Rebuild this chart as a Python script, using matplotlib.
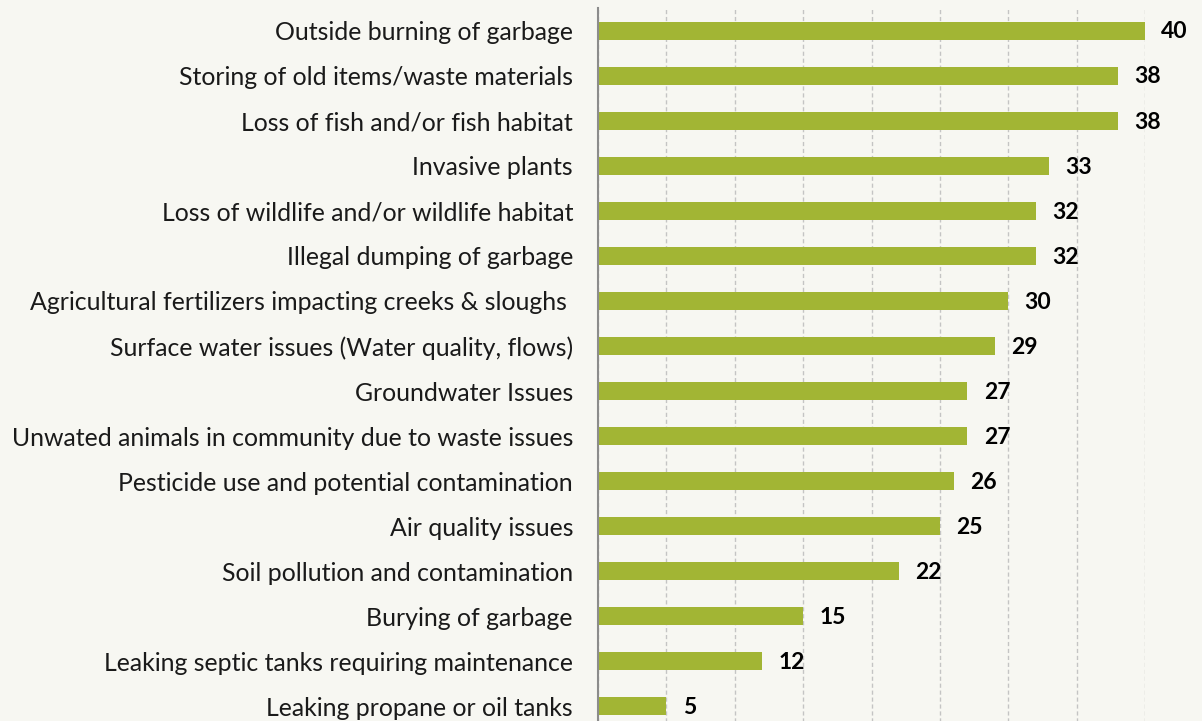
import matplotlib.pyplot as plt

issues = [
    "Outside burning of garbage",
    "Storing of old items/waste materials",
    "Loss of fish and/or fish habitat",
    "Invasive plants",
    "Loss of wildlife and/or wildlife habitat",
    "Illegal dumping of garbage",
    "Agricultural fertilizers impacting creeks & sloughs ",
    "Surface water issues (Water quality, flows)",
    "Groundwater Issues",
    "Unwated animals in community due to waste issues",
    "Pesticide use and potential contamination",
    "Air quality issues",
    "Soil pollution and contamination",
    "Burying of garbage",
    "Leaking septic tanks requiring maintenance",
    "Leaking propane or oil tanks",
]
counts = [40, 38, 38, 33, 32, 32, 30, 29, 27, 27, 26, 25, 22, 15, 12, 5]

plt.rcParams['font.family'] = ['Lato', 'DejaVu Sans']

fig = plt.figure(figsize=(12.02, 7.21), dpi=100)
fig.patch.set_facecolor('#F7F7F2')
ax = fig.add_axes([598 / 1202, -8 / 721, 547 / 1202, 721 / 721])
ax.set_facecolor('none')

pos = list(range(len(issues)))
ax.barh(pos, counts, height=0.4, color='#A2B534', zorder=3)
for p, v in zip(pos, counts):
    ax.text(v + 1.2, p + 0.03, str(v), va='center', ha='left', fontsize=16.5,
            fontweight='bold', color='black', clip_on=False)

ax.set_xlim(0, 40)
ax.set_ylim(15.5, -0.5)
ax.set_xticks(range(0, 41, 5))
ax.set_xticklabels([])
ax.tick_params(axis='x', length=0)
ax.grid(axis='x', color='#C4C4C4', linestyle=(0, (3, 2)), linewidth=1, zorder=0)
ax.set_yticks(pos)
ax.set_yticklabels(issues, fontsize=17.9, color='#1A1A1A')
ax.tick_params(axis='y', length=0, pad=18)

for s in ['top', 'right', 'bottom']:
    ax.spines[s].set_visible(False)
ax.spines['left'].set_color('#8C8C8C')
ax.spines['left'].set_linewidth(1.5)
ax.spines['left'].set_zorder(4)

fig.savefig('out.png', dpi=100, facecolor=fig.get_facecolor())
